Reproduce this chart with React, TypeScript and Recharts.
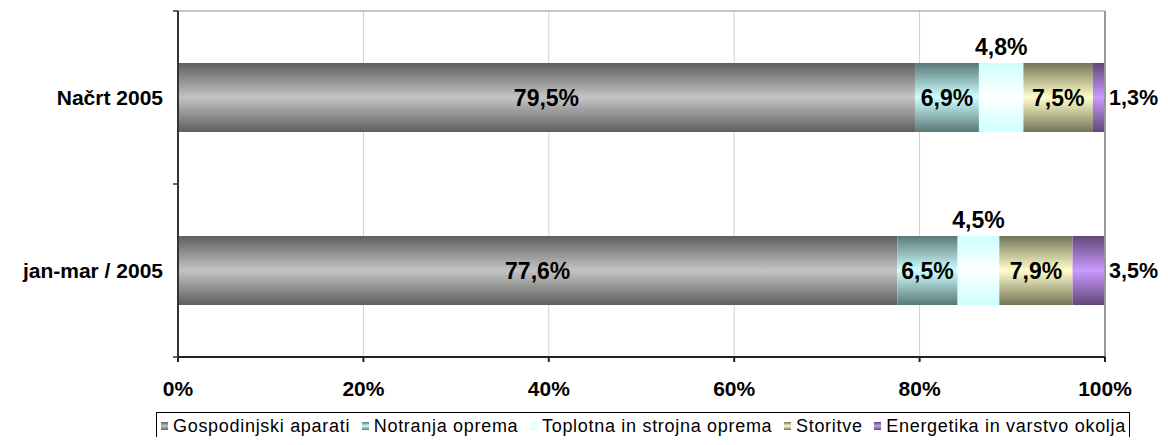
import React from 'react';
import { BarChart, Bar, XAxis, YAxis, CartesianGrid, ReferenceLine, LabelList } from 'recharts';

const categories = ['Načrt 2005', 'jan-mar / 2005'];
const gospodinjski = [79.5, 77.6];
const notranja = [6.9, 6.5];
const toplotna = [4.8, 4.5];
const storitve = [7.5, 7.9];
const energetika = [1.3, 3.5];
const xTicks = [0, 20, 40, 60, 80, 100];

const series = [
  { key: 'gosp', name: 'Gospodinjski aparati', values: gospodinjski, edge: '#5e5e5e', mid: '#c4c4c4', label: 'center' },
  { key: 'notr', name: 'Notranja oprema', values: notranja, edge: '#5a7878', mid: '#ccffff', label: 'center' },
  { key: 'topl', name: 'Toplotna in strojna oprema', values: toplotna, edge: '#ccffff', mid: '#ffffff', label: 'top' },
  { key: 'stor', name: 'Storitve', values: storitve, edge: '#757458', mid: '#ffffcc', label: 'center' },
  { key: 'ener', name: 'Energetika in varstvo okolja', values: energetika, edge: '#5f4878', mid: '#cc99ff', label: 'right' },
];

const data = categories.map((category, i) => {
  const row: any = { category };
  series.forEach(s => { row[s.key] = s.values[i]; });
  return row;
});

const font = 'Arial, "Liberation Sans", sans-serif';
const fmt = (v: number) => `${v.toFixed(1).replace('.', ',')}%`;

const makeLabel = (mode: string) => (props: any) => {
  const x = Number(props.x), y = Number(props.y);
  const width = Number(props.width), height = Number(props.height);
  let tx = x + width / 2;
  let ty = y + height / 2;
  let anchor: 'middle' | 'start' = 'middle';
  let size = 23;
  if (mode === 'top') ty = y - 16;
  if (mode === 'right') { tx = x + width + 4; anchor = 'start'; size = 21.5; }
  return (
    <text x={tx} y={ty} dy="0.355em" textAnchor={anchor}
      style={{ fontFamily: font, fontSize: size, fontWeight: 'bold', fill: '#000' }}>
      {fmt(props.value)}
    </text>
  );
};

// category label plus Excel style tick marks between the categories
const CategoryTick = (props: any) => {
  const { x, y, payload, index, visibleTicksCount, height } = props;
  const axisX = x + 15;
  const band = height / visibleTicksCount;
  return (
    <g>
      <text x={x} y={y} dy="0.355em" textAnchor="end"
        style={{ fontFamily: font, fontSize: 21, fontWeight: 'bold', fill: '#000' }}>
        {payload.value}
      </text>
      <line x1={axisX - 5} x2={axisX} y1={y - band / 2} y2={y - band / 2} stroke="#333" strokeWidth={1.5} />
      {index === visibleTicksCount - 1 && (
        <line x1={axisX - 5} x2={axisX} y1={y + band / 2} y2={y + band / 2} stroke="#333" strokeWidth={1.5} />
      )}
    </g>
  );
};

const ChartLegend = () => (
  <div style={{
    position: 'absolute', left: 148, top: 404, width: 974, height: 28,
    border: '1px solid #000', background: '#fff',
    display: 'flex', alignItems: 'center', justifyContent: 'space-between',
    padding: '0 3px 0 4px', boxSizing: 'border-box',
    fontFamily: font, fontSize: 18, letterSpacing: 0.7, color: '#000', whiteSpace: 'nowrap'
  }}>
    {series.map(s => (
      <div key={s.key} style={{ display: 'flex', alignItems: 'center' }}>
        <span style={{
          display: 'inline-block', width: 7, height: 8, marginRight: 5,
          background: `linear-gradient(to bottom, ${s.edge}, ${s.mid}, ${s.edge})`
        }} />
        <span>{s.name}</span>
      </div>
    ))}
  </div>
);

export default function App() {
  return (
    <div style={{ position: 'relative', width: 1152, height: 429 }}>
      <BarChart
        width={1152}
        height={400}
        data={data}
        layout="vertical"
        barCategoryGap="30%"
        margin={{ top: 3, right: 55, left: 0, bottom: 0 }}
      >
        <defs>
          {series.map(s => (
            <linearGradient key={s.key} id={`grad-${s.key}`} x1="0" y1="0" x2="0" y2="1">
              <stop offset="0%" stopColor={s.edge} />
              <stop offset="50%" stopColor={s.mid} />
              <stop offset="100%" stopColor={s.edge} />
            </linearGradient>
          ))}
        </defs>
        <CartesianGrid horizontal={false} stroke="#cfcfcf" />
        <CartesianGrid vertical={false} stroke="#909090"
          horizontalCoordinatesGenerator={({ offset }: any) => [offset.top]} />
        <XAxis
          type="number"
          domain={[0, 100]}
          ticks={xTicks}
          tickFormatter={(v) => `${v}%`}
          height={51}
          tickSize={5}
          tickMargin={19}
          interval={0}
          stroke="#222"
          strokeWidth={2}
          tick={{ fontFamily: font, fontSize: 21, fontWeight: 'bold', fill: '#000' }}
        />
        <YAxis
          type="category"
          dataKey="category"
          width={170}
          tickSize={5}
          tickMargin={10}
          tickLine={false}
          stroke="#333"
          strokeWidth={2}
          tick={<CategoryTick />}
        />
        <ReferenceLine x={100} stroke="#999" strokeWidth={2} />
        {series.map(s => (
          <Bar key={s.key} dataKey={s.key} name={s.name} stackId="a"
            fill={`url(#grad-${s.key})`} isAnimationActive={false}>
            <LabelList dataKey={s.key} content={makeLabel(s.label)} />
          </Bar>
        ))}
      </BarChart>
      <ChartLegend />
    </div>
  );
}
